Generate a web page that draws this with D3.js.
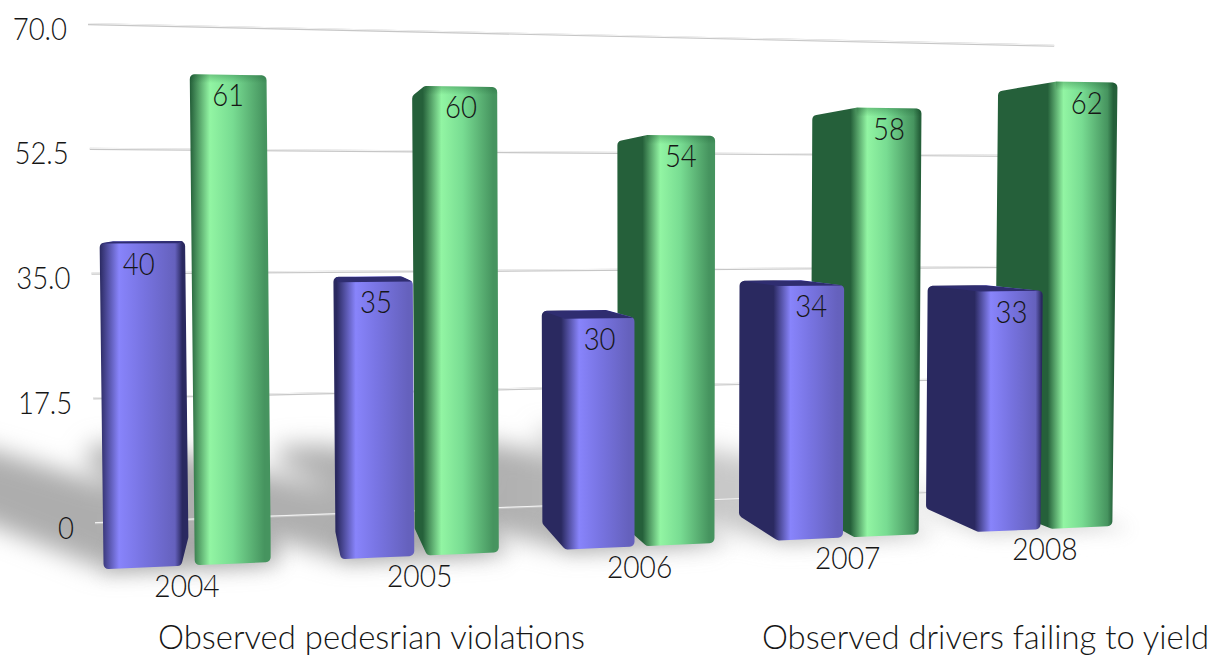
<!DOCTYPE html>
<html>
<head>
<meta charset="utf-8">
<script src="https://cdn.jsdelivr.net/npm/d3@7/dist/d3.min.js"></script>
<style>
  html, body { margin: 0; padding: 0; background: #fff; overflow: hidden; }
  text { font-family: Lato, "Noto Sans", sans-serif; font-weight: 300; fill: #161616; }
</style>
</head>
<body>
<svg id="chart" width="1211" height="655"></svg>
<script>
// Chart values
const years = ["2004", "2005", "2006", "2007", "2008"];
const pedestrianViolations = [40, 35, 30, 34, 33];
const driversFailingToYield = [61, 60, 54, 58, 62];
const gridValues = [0, 17.5, 35, 52.5, 70];
const gridLabels = ["0", "17.5", "35.0", "52.5", "70.0"];
const seriesNames = ["Observed pedesrian violations", "Observed drivers failing to yield"];

// Scene: a pinhole view of the bars standing on a floor in front of a back wall.
const camera = { horizon: 215, unit: 7.13, wallX: 95, vanishX: 8400, vanishZ: 270, lean: 0.00018, leanX: 650 };
const depth = { wall: 0, barBack: -0.05, barFront: -0.128 };
const wallLift = 2;

// World scales: values to height relative to eye level, years and series to positions along the wall.
const yWorld = d3.scaleLinear().domain([0, 70]).range([43.5, -26.5]);
const xYear = d3.scaleBand().domain(years).range([0.0036, 0.1326]);
const xSeries = d3.scaleBand().domain([0, 1]).range([0, 0.018]).paddingInner(0.15);

function project(x, value, z) {
  const w = 1 + x + z;
  const sx = (camera.wallX + camera.vanishX * x + camera.vanishZ * z) / w;
  const sy = camera.horizon + yWorld(value) * camera.unit / w;
  return [camera.leanX + (sx - camera.leanX) * (1 + camera.lean * value), sy];
}
function wallPoint(x, value) {
  const p = project(x, value, depth.wall);
  return [p[0], p[1] - wallLift];
}

const svg = d3.select("#chart");
const defs = svg.append("defs");
defs.append("filter").attr("id", "castBlur").attr("x", "-20%").attr("y", "-40%").attr("width", "140%").attr("height", "180%")
  .append("feGaussianBlur").attr("stdDeviation", 12);
defs.append("filter").attr("id", "haloBlur").attr("x", "-20%").attr("y", "-40%").attr("width", "140%").attr("height", "180%")
  .append("feGaussianBlur").attr("stdDeviation", 9);

const castFade = defs.append("linearGradient").attr("id", "castFade").attr("gradientUnits", "userSpaceOnUse")
  .attr("x1", 0).attr("x2", 1211).attr("y1", 0).attr("y2", 0);
[[0, "#adadad"], [0.42, "#b0b0b0"], [0.62, "#cbcbcb"], [0.78, "#f2f2f2"], [1, "#ffffff"]]
  .forEach(([o, c]) => castFade.append("stop").attr("offset", o).attr("stop-color", c));

const crownShade = defs.append("linearGradient").attr("id", "crownShade").attr("x1", 0).attr("x2", 0).attr("y1", 0).attr("y2", 1);
crownShade.append("stop").attr("offset", 0).attr("stop-color", "#0c4a22").attr("stop-opacity", 0.28);
crownShade.append("stop").attr("offset", 1).attr("stop-color", "#0c4a22").attr("stop-opacity", 0);

const palette = [
  { dark: "#2a2960", left: "#6f6ce2", bright: "#8884fb", mid: "#7874e2", rim: "#6561bd", top: "#2f2d70" },
  { dark: "#25603a", left: "#6ad08a", bright: "#92f5a3", mid: "#78dc92", rim: "#46945f", top: "#3d8a56" }
];

// Every bar of the chart, blue and green, with its position along the wall.
const bars = years.flatMap((year, i) => [driversFailingToYield[i], pedestrianViolations[i]].map((value, k) => {
  const series = 1 - k;
  const x0 = xYear(year) + xSeries(series);
  return { year, series, value, x0, x1: x0 + xSeries.bandwidth() };
}));

function corners(b, value) {
  return [b.x0, b.x1].flatMap(x => [depth.barBack, depth.barFront].map(z => project(x, value, z)));
}

// Closed outline with rounded corners.
function roundedOutline(points, radius) {
  const n = points.length;
  const p = d3.path();
  const mid = (a, c) => [(a[0] + c[0]) / 2, (a[1] + c[1]) / 2];
  const start = mid(points[n - 1], points[0]);
  p.moveTo(start[0], start[1]);
  points.forEach((pt, i) => {
    const next = points[(i + 1) % n];
    const prev = points[(i + n - 1) % n];
    const m = mid(pt, next);
    const r = Math.min(radius, Math.hypot(pt[0] - next[0], pt[1] - next[1]) / 2.2, Math.hypot(pt[0] - prev[0], pt[1] - prev[1]) / 2.2);
    p.arcTo(pt[0], pt[1], m[0], m[1], r);
  });
  p.closePath();
  return p.toString();
}

// Narrow the glyph run of a label while keeping its height.
function condense(selection, ratio) {
  selection.each(function () {
    this.setAttribute("textLength", this.getComputedTextLength() * ratio);
    this.setAttribute("lengthAdjust", "spacingAndGlyphs");
  });
}

// Cast shadows lying on the floor, one per pair of bars, reaching back and to the left.
const castReach = { x: -0.00078, z: 0.0068 };
svg.append("g").attr("filter", "url(#castBlur)").attr("fill", "url(#castFade)")
  .selectAll("path").data(years).join("path")
  .attr("d", year => {
    const pts = bars.filter(b => b.year === year).flatMap(b =>
      [b.x0, b.x1].flatMap(x => [depth.barBack, depth.barFront].flatMap(z => [
        project(x, 0, z),
        project(x + castReach.x * b.value, 0, z + castReach.z * b.value)
      ])));
    return "M" + d3.polygonHull(pts).join("L") + "Z";
  });

// Soft halo on the floor right around each bar's foot.
svg.append("g").attr("filter", "url(#haloBlur)").attr("fill", "#8c8c8c").attr("opacity", 0.3)
  .selectAll("path").data(bars).join("path")
  .attr("d", b => {
    const pts = [b.x0, b.x1 + 0.0012].flatMap(x => [depth.barBack, depth.barFront - 0.012].map(z => project(x, 0, z)));
    return "M" + d3.polygonHull(pts).join("L") + "Z";
  });

// Gridlines on the back wall.
const gridEndX = 0.1298;
const grid = svg.append("g").selectAll("g").data(gridValues).join("g");
grid.append("line").attr("stroke", "#c6c6c6").attr("stroke-width", 2.2)
  .attr("x1", v => wallPoint(0, v)[0]).attr("y1", v => wallPoint(0, v)[1])
  .attr("x2", v => wallPoint(gridEndX, v)[0]).attr("y2", v => wallPoint(gridEndX, v)[1]);
grid.append("line").attr("stroke", "#f4f4f4").attr("stroke-width", 1)
  .attr("x1", v => wallPoint(0, v)[0]).attr("y1", v => wallPoint(0, v)[1] - 0.5)
  .attr("x2", v => wallPoint(gridEndX, v)[0]).attr("y2", v => wallPoint(gridEndX, v)[1] - 0.5);

// Axis labels.
svg.append("g").selectAll("text").data(gridValues).join("text")
  .attr("text-anchor", "end").attr("font-size", 32).attr("dominant-baseline", "central")
  .attr("x", v => wallPoint(0, v)[0] - 21)
  .attr("y", v => wallPoint(0, v)[1] + 3)
  .text((v, i) => gridLabels[i])
  .call(condense, 0.86);

// Bars: one shaded silhouette per bar, with the top face laid over it when seen from above.
const barGroups = svg.append("g").selectAll("g").data(bars).join("g");
barGroups.each(function (b, i) {
  const col = palette[b.series];
  const base = corners(b, 0), crown = corners(b, b.value);
  const hull = d3.polygonHull(base.concat(crown));
  const xMin = d3.min(hull, d => d[0]), xMax = d3.max(hull, d => d[0]);
  const fl = project(b.x0, 0, depth.barFront)[0];
  const fr = project(b.x1, 0, depth.barFront)[0];
  const w = fr - fl;
  const hasLeft = fl - xMin > 2, hasRight = xMax - fr > 2;
  const stops = hasLeft
    ? [[xMin, col.dark], [fl - w * 0.06, col.dark], [fl + w * 0.2, col.bright]]
    : [[xMin, col.left], [fl + w * 0.3, col.bright]];
  stops.push([fl + w * 0.5, col.mid], [fr - w * 0.08, col.rim]);
  stops.push(hasRight ? [fr + 1, col.dark] : [fr, col.rim]);
  stops.push([xMax, hasRight ? col.dark : col.rim]);
  const id = `shade-${b.year}-${b.series}`;
  const grad = defs.append("linearGradient").attr("id", id).attr("gradientUnits", "userSpaceOnUse")
    .attr("x1", xMin).attr("x2", xMax).attr("y1", 0).attr("y2", 0);
  stops.forEach(([x, c]) => grad.append("stop")
    .attr("offset", Math.max(0, Math.min(1, (x - xMin) / (xMax - xMin)))).attr("stop-color", c));
  const outline = roundedOutline(hull, 5);
  defs.append("clipPath").attr("id", `clip-${id}`).append("path").attr("d", outline);
  const g = d3.select(this);
  g.append("path").attr("d", outline).attr("fill", `url(#${id})`);
  const inner = g.append("g").attr("clip-path", `url(#clip-${id})`);
  if (yWorld(b.value) > 0) {
    const top = [project(b.x0, b.value, depth.barBack), project(b.x1, b.value, depth.barBack),
                 project(b.x1, b.value, depth.barFront), project(b.x0, b.value, depth.barFront)];
    inner.append("path").attr("d", "M" + top.join("L") + "Z").attr("fill", col.top);
  } else {
    const a = project(b.x0, b.value, depth.barFront), c = project(b.x1, b.value, depth.barFront);
    inner.append("rect").attr("x", a[0]).attr("y", Math.min(a[1], c[1]))
      .attr("width", c[0] - a[0]).attr("height", 9).attr("fill", "url(#crownShade)");
  }
});

// Value labels on the bars' front faces.
svg.append("g").selectAll("text").data(bars).join("text")
  .attr("text-anchor", "middle").attr("dominant-baseline", "central").attr("font-size", 32)
  .attr("x", b => (project(b.x0, b.value, depth.barFront)[0] + project(b.x1, b.value, depth.barFront)[0]) / 2)
  .attr("y", b => project((b.x0 + b.x1) / 2, b.value, depth.barFront)[1] + 19)
  .text(b => b.value)
  .call(condense, 0.86);

// Year labels under each pair of bars.
svg.append("g").selectAll("text").data(years).join("text")
  .attr("text-anchor", "middle").attr("dominant-baseline", "central").attr("font-size", 32)
  .attr("x", y => project(xYear(y) + 0.009, 0, depth.barFront)[0] - 1)
  .attr("y", y => project(xYear(y) + 0.009, 0, depth.barFront)[1] + 19)
  .text(y => y)
  .call(condense, 0.88);

// Series captions along the bottom.
svg.append("g").selectAll("text").data(seriesNames).join("text")
  .attr("font-size", 33).attr("dominant-baseline", "central")
  .attr("x", (d, i) => [158, 762][i]).attr("y", 636)
  .attr("textLength", (d, i) => [427, 447][i]).attr("lengthAdjust", "spacingAndGlyphs")
  .text(d => d);
</script>
</body>
</html>
